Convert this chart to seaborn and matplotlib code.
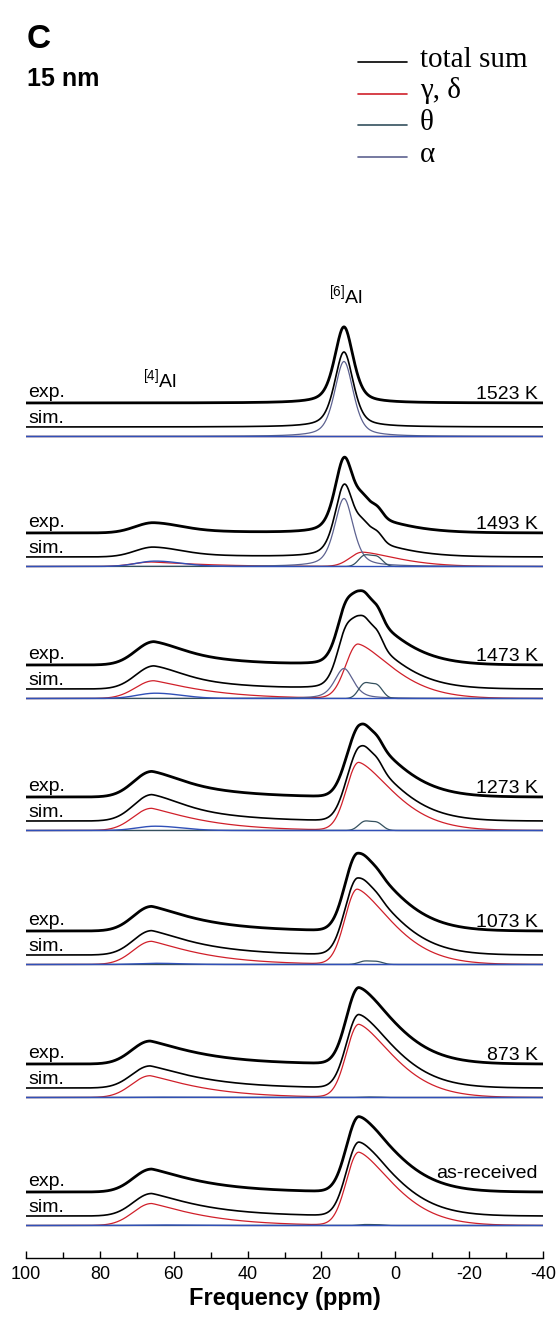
"""27Al MAS NMR stack, 15 nm alumina, with fitted phase components."""
import matplotlib
matplotlib.use("Agg")
import matplotlib.pyplot as plt
import numpy as np
import pandas as pd
import seaborn as sns
from matplotlib.lines import Line2D
from matplotlib.ticker import MultipleLocator

sns.set_theme(style="white")
plt.rcParams["font.family"] = ["Liberation Sans", "DejaVu Sans"]
plt.rcParams["mathtext.default"] = "regular"
plt.rcParams.update({"text.color": "black", "axes.labelcolor": "black",
                     "xtick.color": "black", "axes.edgecolor": "black"})

# panels, top to bottom
PANELS = ["1523 K", "1493 K", "1473 K", "1273 K", "1073 K", "873 K", "as-received"]

# gamma/delta alumina: octahedral [6]Al line (centre ppm, height)
GD6_CENTER = [9.9, 8.9, 10.1, 9.9, 10.3, 9.9, 9.9]
GD6_HEIGHT = [0.0, 14.3, 54.2, 67.8, 75.0, 72.9, 73.0]
# gamma/delta alumina: tetrahedral [4]Al line
GD4_CENTER = [66.0, 66.0, 65.4, 66.0, 66.0, 66.4, 66.0]
GD4_HEIGHT = [0.0, 4.5, 17.8, 22.2, 23.2, 21.8, 22.0]
# theta alumina: [6]Al two-horn pattern and [4]Al hump
THETA6_HEIGHT = [0.0, 11.8, 16.0, 9.6, 3.6, 0.5, 1.0]
THETA4_CENTER = 65.0
THETA4_HEIGHT = [0.0, 5.4, 5.3, 4.3, 1.2, 0.3, 0.5]
# alpha alumina
ALPHA_CENTER = 13.9
ALPHA_HEIGHT = [75.0, 68.0, 30.0, 0.0, 0.0, 0.0, 0.0]
# experimental / simulated intensity ratio
EXP_SCALE = [1.015, 1.04, 1.01, 0.97, 1.01, 1.04, 1.02]

# line widths in ppm (high-frequency side, low-frequency side)
GD6_WIDTH = [4.7, 13.7]
GD4_WIDTH = [7.0, 17.0]
THETA4_WIDTH = [7.0, 10.0]
THETA6_HORNS = [8.4, 5.0]
THETA6_HORN_REL = [1.0, 0.9]
THETA6_SIGMA = 1.6
ALPHA_FWHM = 6.0

# layout (data units = pixels above the x axis)
EXP_BASE = [855, 725, 593, 461, 327, 194, 66]
SIM_DROP = 24
COMP_DROP = 33.5

C_BLACK = "#000000"
C_GD = "#d0202a"
C_THETA = "#34505e"
C_THETA4 = "#3050b8"
C_ALPHA = "#5d6290"

ppm = np.linspace(100, -40, 1401)


def skewed(x, c, h, w_hi, w_lo, p_lo):
    d = x - c
    hi = np.exp(-(np.clip(d, 0, None) / w_hi) ** 2)
    lo = np.exp(-(np.clip(-d, 0, None) / w_lo) ** p_lo)
    return h * np.where(d >= 0, hi, lo)


def pvoigt(x, c, h, fwhm, eta=0.5):
    d = (x - c) / fwhm
    return h * (eta / (1 + 4 * d ** 2) + (1 - eta) * np.exp(-4 * np.log(2) * d ** 2))


def horns(x, h):
    s = sum(r * np.exp(-((x - c) ** 2) / (2 * THETA6_SIGMA ** 2))
            for c, r in zip(THETA6_HORNS, THETA6_HORN_REL))
    return h * s / s.max()


rows = []
for i, name in enumerate(PANELS):
    gd = (skewed(ppm, GD6_CENTER[i], GD6_HEIGHT[i], *GD6_WIDTH, 1.5)
          + skewed(ppm, GD4_CENTER[i], GD4_HEIGHT[i], *GD4_WIDTH, 1.2))
    theta6 = horns(ppm, THETA6_HEIGHT[i])
    theta4 = skewed(ppm, THETA4_CENTER, THETA4_HEIGHT[i], *THETA4_WIDTH, 2.0)
    alpha = pvoigt(ppm, ALPHA_CENTER, ALPHA_HEIGHT[i], ALPHA_FWHM)
    total = gd + theta6 + theta4 + alpha
    base = EXP_BASE[i]
    for trace, vals, off in [
        ("exp", total * EXP_SCALE[i], base),
        ("sim", total, base - SIM_DROP),
        ("gd", gd, base - COMP_DROP),
        ("alpha", alpha, base - COMP_DROP),
        ("theta6", theta6, base - COMP_DROP),
        ("theta4", theta4, base - COMP_DROP),
    ]:
        rows.append(pd.DataFrame({"ppm": ppm, "y": vals + off, "panel": name, "trace": trace}))
df = pd.concat(rows, ignore_index=True)

fig = plt.figure(figsize=(5.6, 13.23), dpi=100)
ax = fig.add_axes([26 / 560, 65 / 1323, 517 / 560, 1198 / 1323])

styles = {
    "sim": (C_BLACK, 1.2),
    "exp": (C_BLACK, 2.0),
    "gd": (C_GD, 0.9),
    "alpha": (C_ALPHA, 0.9),
    "theta6": (C_THETA, 0.9),
    "theta4": (C_THETA4, 1.0),
}
for trace, (color, lw) in styles.items():
    sns.lineplot(data=df[df["trace"] == trace], x="ppm", y="y", units="panel",
                 estimator=None, sort=False, color=color, lw=lw, ax=ax, legend=False)

ax.set_xlim(100, -40)
ax.set_ylim(0, 1198)
for side in ["top", "left", "right"]:
    ax.spines[side].set_visible(False)
ax.spines["bottom"].set_linewidth(1.0)
ax.set_yticks([])
ax.xaxis.set_major_locator(MultipleLocator(20))
ax.xaxis.set_minor_locator(MultipleLocator(10))
ax.tick_params(axis="x", which="major", direction="in", length=5, width=1.0,
               bottom=True, labelsize=13, pad=6)
ax.tick_params(axis="x", which="minor", direction="in", length=4, width=1.0, bottom=True)
ax.set_xticklabels([f"{v:g}" for v in ax.get_xticks()])
ax.set_xlabel("Frequency (ppm)", fontsize=17, fontweight="bold", labelpad=3)
ax.set_ylabel("")

for i, name in enumerate(PANELS):
    base = EXP_BASE[i]
    lift = 14 if name == "as-received" else 4
    ax.text(-38.6, base + lift, name, ha="right", va="baseline", fontsize=14)
    ax.text(99.3, base + 6, "exp.", ha="left", va="baseline", fontsize=14)
    ax.text(99.3, base - SIM_DROP + 4, "sim.", ha="left", va="baseline", fontsize=14)

ax.text(68.3, 871, "$^{[4]}$Al", ha="left", va="baseline", fontsize=14)
ax.text(18.0, 955, "$^{[6]}$Al", ha="left", va="baseline", fontsize=14)

fig.text(27 / 560, 1 - 48 / 1323, "C", fontsize=24, fontweight="bold", va="baseline")
fig.text(27 / 560, 1 - 86 / 1323, "15 nm", fontsize=18, fontweight="bold", va="baseline")

legend_items = [("total sum", C_BLACK), ("\u03b3, \u03b4", C_GD), ("\u03b8", C_THETA), ("\u03b1", C_ALPHA)]
for k, (label, color) in enumerate(legend_items):
    y_px = 62 + 31.5 * k
    yf = 1 - y_px / 1323
    fig.add_artist(Line2D([358 / 560, 407 / 560], [yf, yf], color=color, lw=1.2,
                          transform=fig.transFigure))
    fig.text(420 / 560, 1 - (y_px + 5) / 1323, label, fontsize=21, va="baseline",
             family=["Liberation Serif", "DejaVu Serif"])

fig.savefig("out.png", dpi=100, facecolor="white")
